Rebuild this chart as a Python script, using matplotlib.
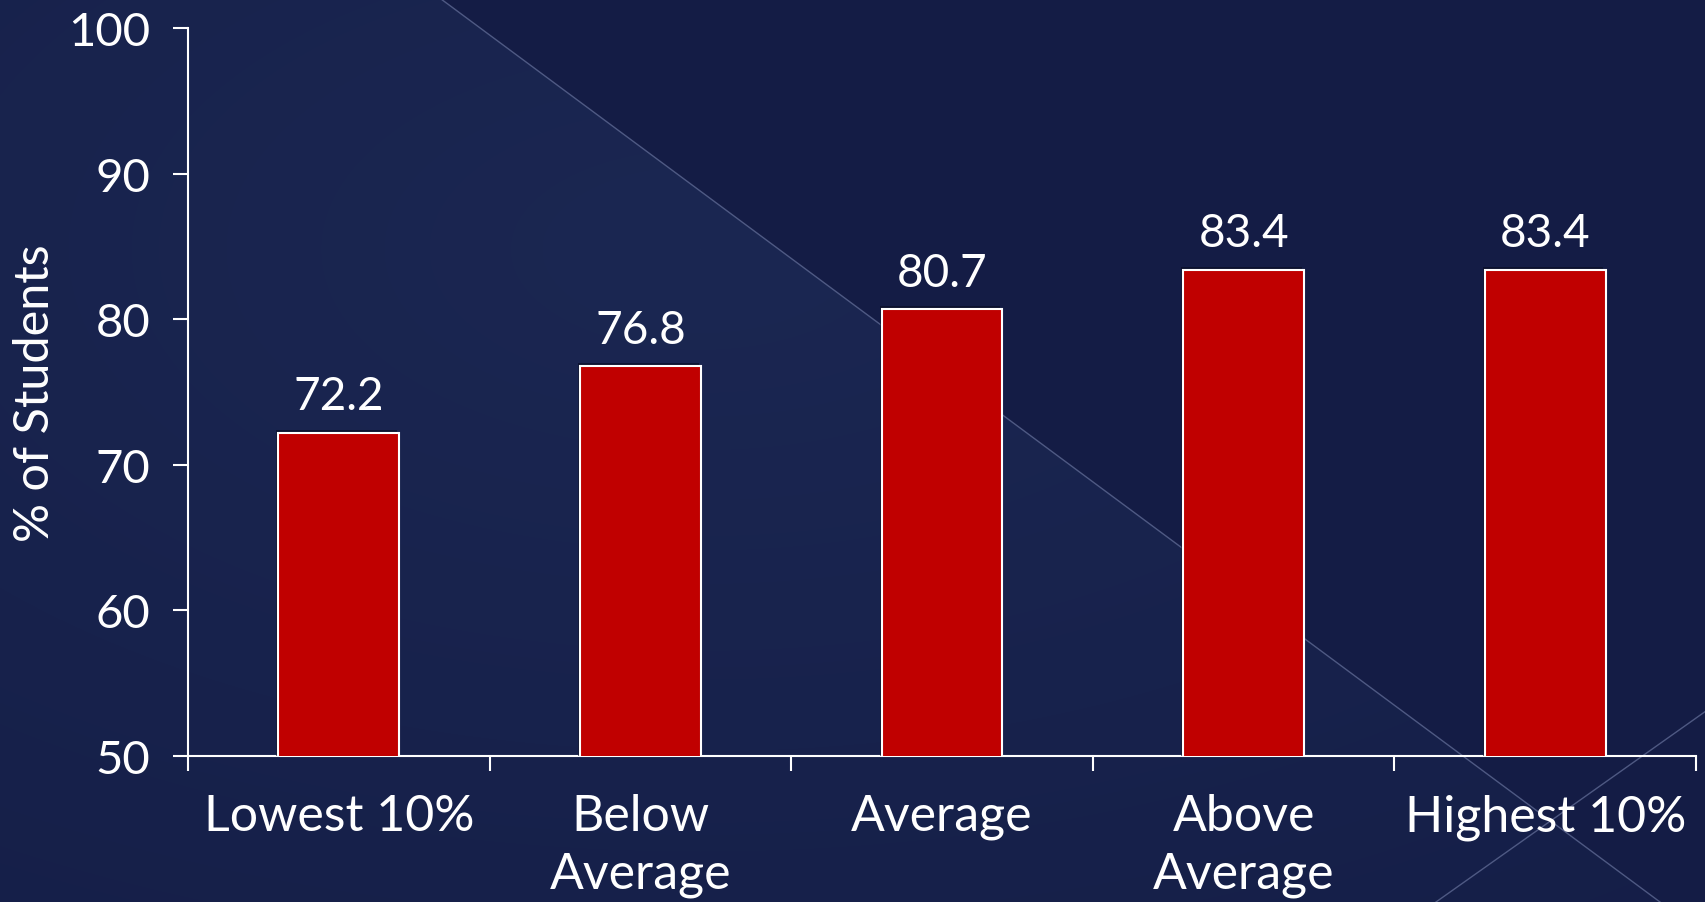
import numpy as np
import matplotlib
matplotlib.use("Agg")
import matplotlib.pyplot as plt
import matplotlib.patheffects as pe
from matplotlib.patches import Polygon

# data
categories = ["Lowest 10%", "Below\nAverage", "Average", "Above\nAverage", "Highest 10%"]
values = [72.2, 76.8, 80.7, 83.4, 83.4]
y_ticks = [50, 60, 70, 80, 90, 100]

plt.rcParams['font.family'] = ['Lato', 'DejaVu Sans']

W, H = 1706, 903
fig = plt.figure(figsize=(W / 100, H / 100), dpi=100)
dark = "#141c45"
fig.patch.set_facecolor(dark)

# background: lighter triangle on the left with a soft gradient, thin diagonal lines
bg = fig.add_axes([0, 0, 1, 1], zorder=-10)
bg.set_xlim(0, W)
bg.set_ylim(H, 0)
bg.axis("off")
yy, xx = np.mgrid[0:H, 0:W]
d = np.hypot((xx - 700) / W, (yy - 250) / H)
shade = np.clip(1 - d * 0.9, 0, 1)
c_lo = np.array([0x14, 0x1d, 0x46]) / 255
c_hi = np.array([0x1b, 0x27, 0x52]) / 255
img = c_lo + (c_hi - c_lo) * shade[..., None]
im = bg.imshow(img, extent=(0, W, H, 0), aspect="auto")
tri = Polygon([(0, 0), (441, 0), (1660, H), (0, H)], closed=True, transform=bg.transData)
im.set_clip_path(tri)
bg.plot([441, 1660], [0, H], color="#5d6892", lw=1.0, alpha=0.8)
bg.plot([1436, W], [H, 712], color="#5d6892", lw=1.0, alpha=0.8)

# bar chart
ax = fig.add_axes([188 / W, 1 - 757 / H, (1696 - 188) / W, (757 - 29) / H])
ax.set_facecolor("none")
x = np.arange(len(categories))
bars = ax.bar(x, values, width=0.4, color="#c00000", edgecolor="white", linewidth=1.5, zorder=3)
for b in bars:
    b.set_path_effects([pe.SimplePatchShadow(offset=(-1.5, 2), shadow_rgbFace="#070b20", alpha=0.6),
                        pe.Normal()])

for xi, v in zip(x, values):
    ax.annotate(f"{v:.1f}", (xi, v), xytext=(0, 11), textcoords="offset points",
                ha="center", va="bottom", color="white", fontsize=33)

ax.set_xlim(-0.5, len(categories) - 0.5)
ax.set_ylim(50, 100)
ax.set_yticks(y_ticks)
ax.set_xticks(np.arange(len(categories) + 1) - 0.5)
ax.set_xticklabels([])
ax.set_xticks(x, minor=True)
ax.set_xticklabels(categories, minor=True, fontsize=36, color="white", linespacing=1.3)
ax.tick_params(axis="x", which="minor", length=0, pad=27)
ax.tick_params(axis="x", which="major", length=11, width=1.5, color="white", direction="out")
ax.tick_params(axis="y", length=11, width=1.5, color="white", labelsize=34, labelcolor="white", pad=16)

for s in ["top", "right"]:
    ax.spines[s].set_visible(False)
for s in ["left", "bottom"]:
    ax.spines[s].set_color("white")
    ax.spines[s].set_linewidth(1.5)

ax.set_ylabel("% of Students", color="white", fontsize=35, labelpad=8)

fig.savefig("out.png", dpi=100, facecolor=fig.get_facecolor())
